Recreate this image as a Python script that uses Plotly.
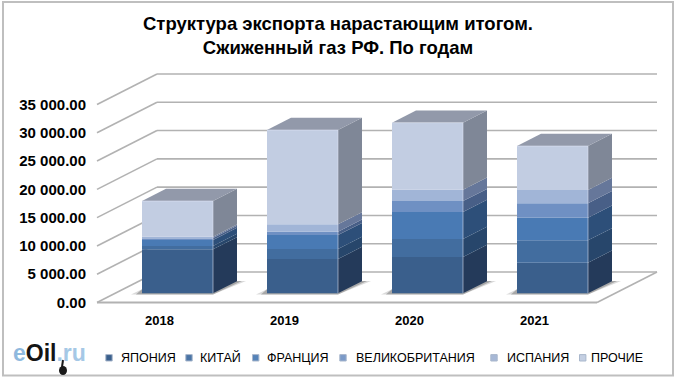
import plotly.graph_objects as go

years = ["2018", "2019", "2020", "2021"]
japan = [7780, 6060, 6420, 5410]
china = [580, 1770, 3180, 3960]
france = [1060, 2470, 4770, 4010]
uk = [355, 590, 1940, 2540]
spain = [225, 1310, 2000, 2350]
others = [6320, 16670, 11850, 7770]
series_names = ["ЯПОНИЯ", "КИТАЙ", "ФРАНЦИЯ", "ВЕЛИКОБРИТАНИЯ", "ИСПАНИЯ", "ПРОЧИЕ"]
tick_values = [0, 5000, 10000, 15000, 20000, 25000, 30000, 35000]
tick_labels = ["0.00", "5 000.00", "10 000.00", "15 000.00", "20 000.00",
               "25 000.00", "30 000.00", "35 000.00"]
title_lines = ["Структура экспорта нарастающим итогом.", "Сжиженный газ РФ. По годам"]

series = [japan, china, france, uk, spain, others]
front = ["#3a5f8c", "#426d9f", "#497ab4", "#6f90c3", "#a1b5d7", "#c2cde2"]
side = ["#243a5a", "#27466b", "#2d4f79", "#485f87", "#66779a", "#7f8797"]
top_colour = "#9299aa"

W, H = 680, 384
L, R, T, B = 95, 662, 60, 304          # plot area in px
PX_X = 125.0                           # px per category
PX_Y = 198.0 / 35000                   # px per value unit
X0, Y0 = 97 + 0.5 * PX_X, 302.5        # px of category 0 / value 0
DX, DY = 60 / PX_X, 30.5 / PX_Y        # full depth of the box in data units
NEAR, FAR = 0.3, 0.7                   # bar depth in the box
BAR_W = 0.568


def px(xp):
    return (xp - L) / (R - L)


def py(yp):
    return 1 - (yp - T) / (B - T)


def project(x, v, d):
    return x + d * DX, v + d * DY


fig = go.Figure()
cats = list(range(len(years)))
bases = [0.0] * len(years)

for k, vals in enumerate(series):
    fig.add_trace(go.Bar(
        x=[project(i, 0, NEAR)[0] for i in cats],
        y=vals,
        base=[b + NEAR * DY for b in bases],
        width=BAR_W, name=series_names[k],
        marker=dict(color=front[k], line=dict(width=0)),
        showlegend=False))
    for i in cats:
        xr = i + BAR_W / 2
        a = project(xr, bases[i], NEAR)
        b = project(xr, bases[i], FAR)
        c = project(xr, bases[i] + vals[i], FAR)
        d = project(xr, bases[i] + vals[i], NEAR)
        fig.add_trace(go.Scatter(
            x=[a[0], b[0], c[0], d[0], a[0]], y=[a[1], b[1], c[1], d[1], a[1]],
            mode="lines", fill="toself", fillcolor=side[k],
            line=dict(width=0), hoverinfo="skip", showlegend=False))
    bases = [b + v for b, v in zip(bases, vals)]

# top faces and light bevel of each bar
for i in cats:
    xl, xr = i - BAR_W / 2, i + BAR_W / 2
    pts = [project(xl, bases[i], NEAR), project(xl, bases[i], FAR),
           project(xr, bases[i], FAR), project(xr, bases[i], NEAR)]
    pts.append(pts[0])
    fig.add_trace(go.Scatter(
        x=[p[0] for p in pts], y=[p[1] for p in pts], mode="lines", fill="toself",
        fillcolor=top_colour, line=dict(width=0), hoverinfo="skip", showlegend=False))
    a = project(xl, bases[i], NEAR)
    b = project(xr, bases[i], NEAR)
    c = project(xr, 0, NEAR)
    fig.add_trace(go.Scatter(
        x=[a[0], b[0], c[0]], y=[a[1], b[1], c[1]], mode="lines",
        line=dict(color="rgba(225,232,245,0.55)", width=1),
        hoverinfo="skip", showlegend=False))

shapes = []
grid = dict(color="#b2b2b2", width=1.6)
xa, xb = -0.5, len(years) - 0.5
for v in tick_values:
    bx, by = project(xa, v, 1)
    ex, ey = project(xb, v, 1)
    shapes.append(dict(type="line", xref="x", yref="y", x0=xa, y0=v, x1=bx, y1=by,
                       line=grid, layer="below"))
    shapes.append(dict(type="line", xref="x", yref="y", x0=bx, y0=by, x1=ex, y1=ey,
                       line=grid, layer="below"))
# floor front and right edges
ex, ey = project(xb, 0, 1)
shapes.append(dict(type="line", xref="x", yref="y", x0=xa, y0=0, x1=xb, y1=0,
                   line=dict(color="#b2b2b2", width=2), layer="below"))
shapes.append(dict(type="line", xref="x", yref="y", x0=xb, y0=0, x1=ex, y1=ey,
                   line=grid, layer="below"))

# floor shadows
ux, uy = 1 / PX_X, 1 / PX_Y
for i in cats:
    xl, xr = i - BAR_W / 2, i + BAR_W / 2
    fx0, fy0 = project(xl, 0, NEAR)
    fx1, _ = project(xr, 0, NEAR)
    for grow, col in ((1.0, "rgba(150,150,150,0.35)"), (0.55, "rgba(90,90,90,0.4)")):
        p = [(fx0 - 11 * grow * ux, fy0 - 1.2 * uy), (fx0, fy0 + 4 * uy),
             (fx1 + 24 * ux, fy0 + 12.3 * uy), (fx1 + (24 + 9 * grow) * ux, fy0 + 12.3 * uy),
             (fx1, fy0 - 1.2 * uy)]
        path = "M" + " L".join(f"{a:.4f},{b:.2f}" for a, b in p) + " Z"
        shapes.append(dict(type="path", xref="x", yref="y", path=path,
                           fillcolor=col, line=dict(width=0), layer="below"))

# outer frame
shapes.append(dict(type="rect", xref="paper", yref="paper", x0=px(3), x1=px(673),
                   y0=py(2), y1=py(375.5), line=dict(color="#bfbfbf", width=2),
                   layer="below"))

annotations = []
FONT = "Liberation Sans, Arial, sans-serif"

# legend row
legend_sq = [109, 189, 255.7, 343, 494, 582.7]
legend_txt = [120, 199, 265.5, 355, 505.7, 590]
legend_nudge = [0, 1, 0, 0, 0, 0]
sq_col = ["#3a5f8c", "#4a74a5", "#5583b8", "#7b9ac8", "#a7b8d6", "#c4cfe2"]
for k, name in enumerate(series_names):
    shapes.append(dict(type="rect", xref="paper", yref="paper",
                       x0=px(legend_sq[k] - 3.2), x1=px(legend_sq[k] + 3.2),
                       y0=py(361), y1=py(354.6), fillcolor=sq_col[k],
                       line=dict(color="#a9b7cc", width=1)))
    annotations.append(dict(xref="paper", yref="paper", x=px(legend_txt[k]), y=py(358),
                            xanchor="left", yanchor="middle", showarrow=False, text=name,
                            xshift=-1, yshift=legend_nudge[k],
                            font=dict(family=FONT, size=12.5, color="#000000")))

# logo
annotations.append(dict(
    xref="paper", yref="paper", x=px(11), y=py(353), xanchor="left", yanchor="middle",
    showarrow=False,
    text='<span style="color:#8fb9de">e</span><span style="color:#141414">Oil</span>'
         '<span style="color:#a5c8e6">.ru</span>',
    font=dict(family=FONT, size=23, color="#141414", weight="bold")))
shapes.append(dict(type="circle", xref="paper", yref="paper", x0=px(59), x1=px(67),
                   y0=py(375), y1=py(366), fillcolor="#1a1a1a", line=dict(width=0)))
shapes.append(dict(type="line", xref="paper", yref="paper", x0=px(62), x1=px(63),
                   y0=py(367), y1=py(360), line=dict(color="#1a1a1a", width=2)))

fig.update_layout(
    width=W, height=H, autosize=False,
    margin=dict(l=L, r=W - R, t=T, b=H - B, pad=0),
    paper_bgcolor="white", plot_bgcolor="rgba(0,0,0,0)",
    barmode="overlay", showlegend=False, hovermode=False,
    title=dict(text="<br>".join(title_lines), x=338 / W, xanchor="center",
               y=1 - 30 / H, yanchor="middle",
               font=dict(family=FONT, size=18.5, color="#000000", weight="bold"),
               automargin=False),
    font=dict(family=FONT, color="#000000"),
    xaxis=dict(range=[(L - X0) / PX_X, (R - X0) / PX_X], tickmode="array",
               tickvals=cats, ticktext=years, showgrid=False, zeroline=False,
               showline=False, ticks="outside", ticklen=4, tickcolor="rgba(0,0,0,0)",
               tickfont=dict(family=FONT, size=13, color="#000000", weight="bold")),
    yaxis=dict(range=[(Y0 - B) / PX_Y, (Y0 - T) / PX_Y], tickmode="array",
               tickvals=tick_values, ticktext=tick_labels, showgrid=False,
               zeroline=False, showline=False, ticks="outside", ticklen=5,
               tickcolor="rgba(0,0,0,0)",
               tickfont=dict(family=FONT, size=15, color="#000000", weight="bold")),
    shapes=shapes, annotations=annotations)

fig.write_html("out.html", config={"displayModeBar": False},
               post_script="document.body.style.margin='0';")
